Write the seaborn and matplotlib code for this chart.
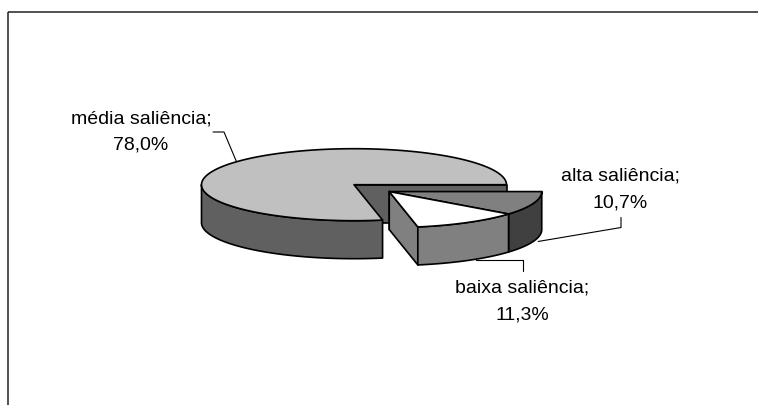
import numpy as np
import matplotlib
matplotlib.use("Agg")
import matplotlib.pyplot as plt
from matplotlib.patches import Polygon, Rectangle
from matplotlib.colors import to_rgb
import seaborn as sns

# ---- data -------------------------------------------------------------
categories = ["média saliência", "baixa saliência", "alta saliência"]
shares = [78.0, 11.3, 10.7]            # percent
top_colors = ["#c0c0c0", "#ffffff", "#808080"]
exploded = [False, True, True]

# ---- style --------------------------------------------------------------
sns.set_theme(style="white")
plt.rcParams["font.family"] = ["Liberation Sans", "DejaVu Sans"]

W, H = 758, 406
fig = plt.figure(figsize=(W / 100, H / 100), dpi=100)
ax = fig.add_axes([0, 0, 1, 1])
ax.set_xlim(0, W)
ax.set_ylim(H, 0)
ax.axis("off")

# chart-area border (only the top and left edges fall inside the canvas)
ax.add_patch(Rectangle((8, 12.5), W + 20, H + 20, fill=False,
                       edgecolor="#222222", lw=1.1, zorder=0))

# ---- 3-D pie geometry (screen pixels, y grows downward) -----------------
cx, cy = 354.0, 185.7      # centre of the top face
rx, ry = 152.5, 36.0       # ellipse radii of the top face
depth = 38.0               # wall height
explode_r = 0.30           # radial offset of the detached wedge group

fractions = np.array(shares) / np.sum(shares)
bounds = np.concatenate([[0.0], np.cumsum(fractions) * 360.0])

# the detached group moves along the bisector of its combined angle span
grp = [i for i, e in enumerate(exploded) if e]
grp_mid = np.deg2rad((bounds[grp[0]] + bounds[grp[-1] + 1]) / 2)
off = (explode_r * rx * np.cos(grp_mid), -explode_r * ry * np.sin(grp_mid))


def pt(t, ox, oy, dz=0.0, r=1.0):
    return (cx + ox + r * rx * np.cos(t), cy + oy - r * ry * np.sin(t) + dz)


def shade(c, k=0.5):
    return tuple(np.array(to_rgb(c)) * k)


edge = dict(edgecolor="black", lw=1.2, joinstyle="round")

# draw the farthest slices first
order = sorted(range(len(shares)),
               key=lambda i: -np.sin(np.deg2rad((bounds[i] + bounds[i + 1]) / 2)))

label_anchor = {}
for i in order:
    t0, t1 = np.deg2rad(bounds[i]), np.deg2rad(bounds[i + 1])
    ox, oy = off if exploded[i] else (0.0, 0.0)
    topc = top_colors[i]
    side = shade(topc)

    # radial faces that face the viewer
    if np.cos(t0) > 1e-9:
        face = [pt(t0, ox, oy, 0, 0), pt(t0, ox, oy), pt(t0, ox, oy, depth),
                pt(t0, ox, oy, depth, 0)]
        ax.add_patch(Polygon(face, closed=True, facecolor=side, **edge))
    if np.cos(t1) < -1e-9:
        face = [pt(t1, ox, oy, 0, 0), pt(t1, ox, oy), pt(t1, ox, oy, depth),
                pt(t1, ox, oy, depth, 0)]
        ax.add_patch(Polygon(face, closed=True, facecolor=side, **edge))

    # outer wall, front half only
    a0, a1 = max(t0, np.pi), min(t1, 2 * np.pi)
    if a1 > a0:
        ts = np.linspace(a0, a1, 200)
        upper = [pt(t, ox, oy) for t in ts]
        lower = [pt(t, ox, oy, depth) for t in ts[::-1]]
        ax.add_patch(Polygon(upper + lower, closed=True, facecolor=side, **edge))

    # top face
    ts = np.linspace(t0, t1, 300)
    top = [pt(0, ox, oy, 0, 0)] + [pt(t, ox, oy) for t in ts]
    ax.add_patch(Polygon(top, closed=True, facecolor=topc, **edge))

    tm = (t0 + t1) / 2
    label_anchor[i] = (pt(tm, ox, oy), pt(tm, ox, oy, depth))

# ---- labels with leader lines -------------------------------------------
fs = 14
lab_kw = dict(ha="center", va="center", fontsize=fs, color="black")
line_gap = 27.0


def put_label(i, x, y):
    """Two-line data label centred on (x, y)."""
    ax.text(x, y - line_gap / 2, f"{categories[i]};", **lab_kw)
    ax.text(x, y + line_gap / 2, f"{shares[i]:.1f}%".replace(".", ","), **lab_kw)


# média saliência: label upper-left, leader to the top rim
i = 0
put_label(i, 141, 132)
rim_top, _ = label_anchor[i]
ax.plot([213, 224, rim_top[0]], [133, 133, rim_top[1]], color="black", lw=0.8)

# alta saliência: label right, leader down then to the wall
i = 2
put_label(i, 620, 189.5)
_, rim_bot = label_anchor[i]
ax.plot([621, 621, rim_bot[0] + 5], [218.5, 228.5, rim_bot[1]], color="black", lw=0.8)

# baixa saliência: label below, leader up then to the wall
i = 1
put_label(i, 522, 302)
_, rim_bot = label_anchor[i]
ax.plot([523, 523, rim_bot[0] + 8], [272, rim_bot[1], rim_bot[1]], color="black", lw=0.8)

fig.savefig("out.png", dpi=100, facecolor="white")
